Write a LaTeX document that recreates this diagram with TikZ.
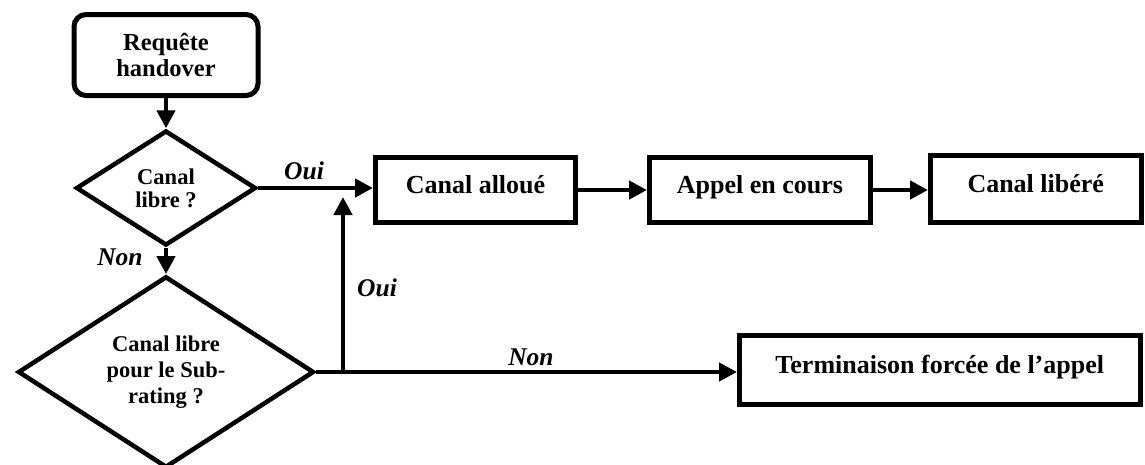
\documentclass[tikz,border=0pt]{standalone}
\usepackage{fontspec}
\setmainfont{Liberation Serif}
\usetikzlibrary{shapes.geometric,arrows.meta}
\begin{document}
\begin{tikzpicture}[x=1pt,y=-1pt,
  box/.style={draw,line width=5pt,inner sep=0pt,font=\fontsize{26}{30}\selectfont\bfseries,align=center},
  onebox/.style={box,text height=18pt,text depth=12pt},
  dec/.style={draw,diamond,line width=4.5pt,inner sep=0pt,align=center},
  lab/.style={font=\fontsize{25.5}{28}\selectfont\bfseries\itshape,inner sep=0pt},
  conn/.style={line width=4.5pt,-{Triangle[length=18pt,width=18pt]}},
]
\useasboundingbox (0,0) rectangle (1145,464);

\node[box,rounded corners=12pt,minimum width=184pt,minimum height=81pt,
  font=\fontsize{24.5}{26}\selectfont\bfseries] (req) at (166,55) {Requête\\handover};

\node[dec,minimum width=180pt,minimum height=115pt,
  font=\fontsize{22.5}{23}\selectfont\bfseries] (d1) at (166,188) {Canal\\libre ?};

\node[dec,minimum width=296pt,minimum height=178pt,
  font=\fontsize{22.5}{26}\selectfont\bfseries] (d2) at (166,372) {Canal libre\\pour le Sub-\\rating ?};

\node[onebox,minimum width=200pt,minimum height=65pt] (alloue) at (475.5,190) {Canal alloué};
\node[onebox,minimum width=221pt,minimum height=65pt] (appel) at (760,190) {Appel en cours};
\node[onebox,minimum width=210.5pt,minimum height=67pt] (libere) at (1035.75,189) {Canal libéré};
\node[onebox,minimum width=400.5pt,minimum height=69pt] (term) at (939.75,370) {Terminaison forcée de l’appel};

\coordinate (j) at (343,372);
\coordinate (t) at (343,197);

\draw[conn] (req.south) -- (d1.north);
\draw[conn] (d1.south) -- (d2.north);
\draw[conn] (d1.east) -- (d1.east -| alloue.west);
\draw[conn] (alloue.east) -- (appel.west);
\draw[conn] (appel.east) -- (appel.east -| libere.west);
\draw[conn] (d2.east) -- (d2.east -| term.west);
\draw[conn] (j) -- (t);

\node[lab] (l1) at (304,171) {Oui};
\node[lab] (l2) at (120,257) {Non};
\node[lab] (l3) at (377,288) {Oui};
\node[lab] (l4) at (531,357) {Non};
\end{tikzpicture}
\end{document}
